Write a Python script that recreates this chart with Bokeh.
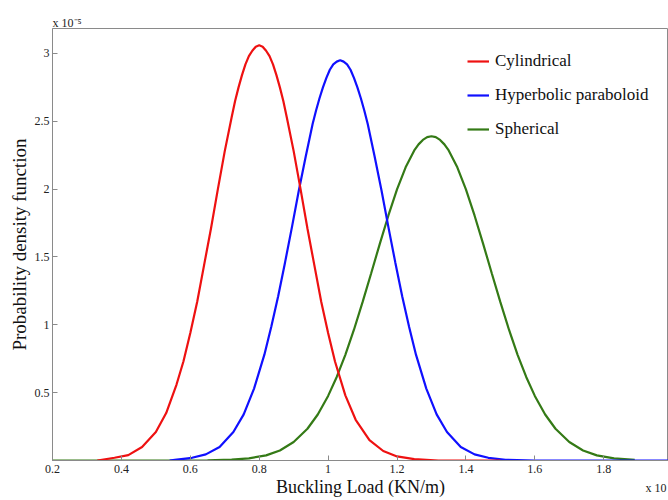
import math
from bokeh.plotting import figure
from bokeh.models import (LinearAxis, FixedTicker, NumeralTickFormatter, Legend,
                          LegendItem, Label, Range1d)
from bokeh.embed import file_html
from bokeh.resources import INLINE

# ---- data (x in units of 1e5 KN/m, y in units of 1e-5) ----
x_ticks = [0.2, 0.4, 0.6, 0.8, 1.0, 1.2, 1.4, 1.6, 1.8, 2.0]
y_ticks = [0.5, 1.0, 1.5, 2.0, 2.5, 3.0]

series_names = ["Cylindrical", "Hyperbolic paraboloid", "Spherical"]

cyl_x = [0.33, 0.38, 0.42, 0.46, 0.50, 0.53, 0.56, 0.58, 0.60, 0.62, 0.64, 0.66,
         0.68, 0.70, 0.72, 0.73, 0.74, 0.75, 0.76, 0.77, 0.78, 0.79, 0.80, 0.81,
         0.82, 0.83, 0.84, 0.85, 0.86, 0.87, 0.88, 0.90,
         0.92, 0.94, 0.96, 0.98, 1.00, 1.02, 1.05, 1.08, 1.12, 1.16, 1.20, 1.25,
         1.32, 1.50]
cyl_y = [0.00, 0.02, 0.04, 0.10, 0.21, 0.35, 0.56, 0.73, 0.94, 1.17, 1.44, 1.71,
         2.00, 2.28, 2.53, 2.65, 2.75, 2.84, 2.92, 2.98, 3.02, 3.05, 3.06, 3.05,
         3.02, 2.98, 2.92, 2.84, 2.75, 2.65, 2.53, 2.28,
         2.00, 1.71, 1.44, 1.17, 0.94, 0.73, 0.48, 0.30, 0.15, 0.07, 0.03, 0.01,
         0.00, 0.00]

hyp_x = [0.54, 0.555, 0.605, 0.645, 0.685, 0.725, 0.755, 0.785, 0.815, 0.835,
         0.855, 0.875, 0.895, 0.915, 0.935, 0.955, 0.965, 0.975, 0.985, 0.995,
         1.005, 1.015, 1.025, 1.035, 1.045, 1.055, 1.065, 1.075, 1.085, 1.095,
         1.105, 1.115, 1.135, 1.155, 1.175, 1.195, 1.215, 1.235,
         1.255, 1.285, 1.315, 1.345, 1.385, 1.425, 1.465, 1.515, 1.60, 2.10]
hyp_y = [0.00, 0.005, 0.02, 0.045, 0.10, 0.21, 0.34, 0.53, 0.78, 0.985,
         1.21, 1.46, 1.72, 1.99, 2.24, 2.48, 2.58, 2.67, 2.75, 2.82,
         2.88, 2.92, 2.94, 2.95, 2.94, 2.92, 2.88, 2.82, 2.75, 2.67,
         2.58, 2.48, 2.24, 1.99, 1.72, 1.46, 1.21, 0.985,
         0.78, 0.53, 0.34, 0.21, 0.10, 0.045, 0.02, 0.005, 0.00, 0.00]

sph_x = [0.20, 0.60, 0.65, 0.72, 0.77, 0.82, 0.86, 0.90, 0.94, 0.97, 1.00,
         1.025, 1.05, 1.075, 1.10, 1.125, 1.15, 1.175, 1.20, 1.225, 1.25, 1.2625,
         1.275, 1.2875, 1.30, 1.3125, 1.325, 1.3375, 1.35, 1.375, 1.40, 1.425,
         1.45, 1.475, 1.50, 1.525, 1.55,
         1.575, 1.60, 1.63, 1.66, 1.70, 1.74, 1.78, 1.83, 1.89]
sph_y = [0.00, 0.00, 0.001, 0.006, 0.016, 0.038, 0.074, 0.136, 0.234, 0.339, 0.476,
         0.616, 0.779, 0.964, 1.167, 1.380, 1.597, 1.806, 1.998, 2.161, 2.285, 2.330,
         2.363, 2.383, 2.39, 2.383, 2.363, 2.330, 2.285, 2.161, 1.998, 1.806,
         1.597, 1.380, 1.167, 0.964, 0.779,
         0.616, 0.476, 0.339, 0.234, 0.136, 0.074, 0.038, 0.016, 0.005]

FONT = "Liberation Serif"
AXIS_GRAY = "#8a8a8a"

p = figure(width=668, height=500, output_backend="svg", toolbar_location=None,
           x_range=Range1d(0.2, 1.988), y_range=Range1d(0, 3.184),
           min_border_left=52, min_border_right=0, min_border_top=25,
           min_border_bottom=40, x_axis_location=None, y_axis_location=None)
p.outline_line_color = AXIS_GRAY
p.outline_line_width = 1
p.grid.visible = False
p.background_fill_color = "white"
p.border_fill_color = "white"

fmt = NumeralTickFormatter(format="0.[0]")

def style_axis(ax):
    ax.axis_line_color = AXIS_GRAY
    ax.major_tick_line_color = AXIS_GRAY
    ax.major_tick_in = 5
    ax.major_tick_out = 0
    ax.minor_tick_line_color = None
    ax.major_label_text_font = FONT
    ax.major_label_text_font_size = "12px"
    ax.major_label_text_color = "#222222"
    ax.axis_label_text_font = FONT
    ax.axis_label_text_font_style = "normal"
    ax.axis_label_text_color = "#111111"
    ax.formatter = fmt

xb = LinearAxis(ticker=FixedTicker(ticks=x_ticks))
style_axis(xb)
xb.major_label_standoff = 4
xb.axis_label = "Buckling Load (KN/m)"
xb.axis_label_text_font_size = "18px"
xb.axis_label_standoff = 1
p.add_layout(xb, "below")

yl = LinearAxis(ticker=FixedTicker(ticks=y_ticks))
style_axis(yl)
yl.major_label_standoff = 3
yl.axis_label = "Probability density function"
yl.axis_label_text_font_size = "19px"
yl.axis_label_standoff = 2
p.add_layout(yl, "left")

r_sph = p.line(sph_x, sph_y, line_color="#347a16", line_width=2.2)
r_hyp = p.line(hyp_x, hyp_y, line_color="#1010ff", line_width=2.2)
r_cyl = p.line(cyl_x, cyl_y, line_color="#ee1111", line_width=2.2)

legend = Legend(items=[LegendItem(label=series_names[0], renderers=[r_cyl]),
                       LegendItem(label=series_names[1], renderers=[r_hyp]),
                       LegendItem(label=series_names[2], renderers=[r_sph])],
                location=(415, 321), padding=0, margin=0, spacing=14,
                glyph_width=22, glyph_height=20, label_height=20, label_standoff=6,
                border_line_color=None, background_fill_alpha=0,
                label_text_font=FONT, label_text_font_size="17px",
                label_text_color="#111111")
p.add_layout(legend, "center")

# exponent markers, placed in the top side panel (screen units of their slot)
p.add_layout(Label(x=0, y=6, x_units="screen", y_units="screen", text="x 10\u207b\u2075",
                   text_font=FONT, text_font_size="12px", text_color="#222222",
                   text_align="left", text_baseline="alphabetic"), "above")
p.add_layout(Label(x=593, y=-473, x_units="screen", y_units="screen", text="x 10",
                   text_font=FONT, text_font_size="12px", text_color="#222222",
                   text_align="left", text_baseline="middle"), "above")

open("out.html", "w").write(file_html(p, INLINE))
